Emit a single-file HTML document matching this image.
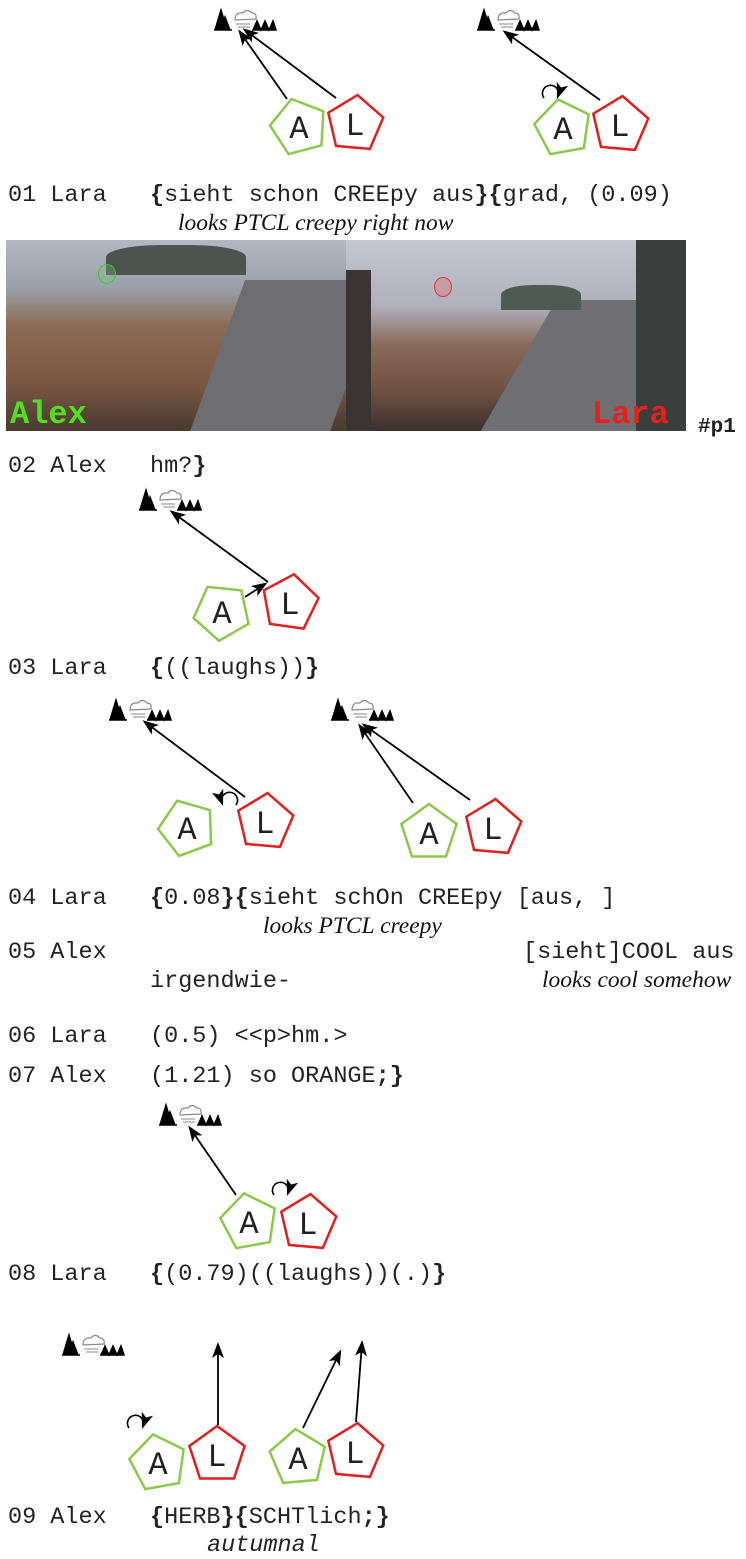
<!DOCTYPE html>
<html><head><meta charset="utf-8"><style>
html,body{margin:0;padding:0;background:#fff;}
body{width:746px;height:1557px;position:relative;overflow:hidden;font-family:"Liberation Mono",monospace;}
.t{position:absolute;font-family:"Liberation Mono",monospace;font-size:23.5px;color:#222;white-space:pre;line-height:1;}
.g{position:absolute;font-family:"Liberation Serif",serif;font-style:italic;font-size:23.5px;color:#111;white-space:pre;line-height:1;}
b{font-weight:bold;}
svg{position:absolute;left:0;top:0;}
svg text{font-family:"Liberation Mono",monospace;}
</style></head><body>
<div style="position:absolute;left:6px;top:240px;width:340px;height:191px;background:linear-gradient(180deg,#b4b8c0 0%,#9aa0a8 25%,#8b6b55 45%,#7a5844 75%,#4a3a30 100%);overflow:hidden">
<div style="position:absolute;left:210px;top:40px;width:140px;height:160px;background:#6e6e72;transform:skewX(-20deg)"></div>
<div style="position:absolute;left:100px;top:5px;width:140px;height:30px;background:#4c5450;border-radius:40% 40% 0 0"></div>
<div style="position:absolute;left:4px;top:156px;font-family:'Liberation Mono',monospace;font-weight:bold;font-size:32px;color:#4fe020">Alex</div>
<div style="position:absolute;left:92px;top:24px;width:16px;height:18px;border:1.5px solid #3c3;border-radius:50%;background:rgba(120,200,120,.3)"></div>
</div>
<div style="position:absolute;left:346px;top:240px;width:340px;height:191px;background:linear-gradient(180deg,#c4c6d0 0%,#aeb0ba 35%,#8a6a58 55%,#6e5040 80%,#3a3030 100%);overflow:hidden">
<div style="position:absolute;left:170px;top:60px;width:200px;height:140px;background:#707074;transform:skewX(-30deg)"></div>
<div style="position:absolute;left:155px;top:45px;width:80px;height:25px;background:#505a55;border-radius:40% 40% 0 0"></div>
<div style="position:absolute;left:290px;top:0;width:50px;height:191px;background:#3a3e3c"></div>
<div style="position:absolute;left:0;top:30px;width:25px;height:161px;background:#3a3432"></div>
<div style="position:absolute;left:246px;top:156px;font-family:'Liberation Mono',monospace;font-weight:bold;font-size:32px;color:#e8201c">Lara</div>
<div style="position:absolute;left:88px;top:37px;width:16px;height:18px;border:1.5px solid #d33;border-radius:50%;background:rgba(220,120,120,.4)"></div>
</div>
<div class="t" style="left:698px;top:417px;font-weight:bold;font-size:21px">#p1</div>

<div class="t" style="left:8px;top:184px">01 Lara</div>
<div class="t" style="left:150px;top:184px"><b>{</b>sieht schon CREEpy aus<b>}{</b>grad, (0.09)</div>
<div class="g" style="left:178px;top:212px">looks PTCL creepy right now</div>
<div class="t" style="left:8px;top:455px">02 Alex</div>
<div class="t" style="left:150px;top:455px">hm?<b>}</b></div>
<div class="t" style="left:8px;top:657px">03 Lara</div>
<div class="t" style="left:150px;top:657px"><b>{</b>((laughs))<b>}</b></div>
<div class="t" style="left:8px;top:887px">04 Lara</div>
<div class="t" style="left:150px;top:887px"><b>{</b>0.08<b>}{</b>sieht schOn CREEpy [aus, ]</div>
<div class="g" style="left:263px;top:915px">looks PTCL creepy</div>
<div class="t" style="left:8px;top:941px">05 Alex</div>
<div class="t" style="left:523px;top:941px">[sieht]COOL aus</div>
<div class="t" style="left:150px;top:970px">irgendwie-</div>
<div class="g" style="left:542px;top:969px">looks cool somehow</div>
<div class="t" style="left:8px;top:1025px">06 Lara</div>
<div class="t" style="left:150px;top:1025px">(0.5) &lt;&lt;p&gt;hm.&gt;</div>
<div class="t" style="left:8px;top:1065px">07 Alex</div>
<div class="t" style="left:150px;top:1065px">(1.21) so ORANGE<b>;}</b></div>
<div class="t" style="left:8px;top:1263px">08 Lara</div>
<div class="t" style="left:150px;top:1263px"><b>{</b>(0.79)((laughs))(.)<b>}</b></div>
<div class="t" style="left:8px;top:1506px">09 Alex</div>
<div class="t" style="left:150px;top:1506px"><b>{</b>HERB<b>}{</b>SCHTlich<b>;}</b></div>
<div class="t" style="left:207px;top:1534px;font-style:italic">autumnal</div>

<svg id="s" width="746" height="1557" xmlns="http://www.w3.org/2000/svg">
<defs><marker id="ah" markerWidth="16" markerHeight="12" refX="13" refY="6" orient="auto" markerUnits="userSpaceOnUse"><path d="M0,0 L16,6 L0,12 L4,6 z" fill="#000"/></marker></defs>
</svg>
<script>
var s=document.getElementById('s'),NS='http://www.w3.org/2000/svg';
function el(n,a,t){var e=document.createElementNS(NS,n);for(var k in a)e.setAttribute(k,a[k]);if(t)e.textContent=t;s.appendChild(e);}
function pent(cx,cy,rot,col,L){var p=[];for(var i=0;i<5;i++){var a=(rot-90+i*72)*Math.PI/180;p.push((cx+29*Math.cos(a)).toFixed(1)+','+(cy+29*Math.sin(a)).toFixed(1));}
el('polygon',{points:p.join(' '),fill:'none',stroke:col,'stroke-width':2.5});
el('text',{x:cx,y:cy+11,'text-anchor':'middle',style:'font-family:"Liberation Mono",monospace;font-size:32px',fill:'#222'},L);}
function A(x,y,r){pent(x,y,r,'#8cc84b','A');}
function Lp(x,y,r){pent(x,y,r,'#e02020','L');}
function arr(x1,y1,x2,y2){el('line',{x1:x1,y1:y1,x2:x2,y2:y2,stroke:'#000','stroke-width':1.8,'marker-end':'url(#ah)'});}
function icon(x,y){
el('path',{d:'M'+x+','+y+' l6,-20 l6,20 z M'+(x+5)+','+y+' l5,-13 l5,13z M'+(x-1)+','+y+' h18',fill:'#000',stroke:'#000','stroke-width':1.5});
el('path',{d:'M'+(x+20)+','+(y-10)+' q0,-8 8,-7 q4,-5 9,0 q5,0 4,6 z',fill:'none',stroke:'#888','stroke-width':1.2});
el('path',{d:'M'+(x+21)+','+(y-6)+' h14 M'+(x+23)+','+(y-3)+' h12',stroke:'#888','stroke-width':1});
el('path',{d:'M'+(x+38)+','+y+' l4,-9 l4,9 l4,-9 l4,9 l4,-9 l3,9 z M'+(x+37)+','+y+' h20',fill:'#000',stroke:'#000','stroke-width':1.5});}
function curl(x,y,flip){var d=flip?'M'+(x+8)+','+(y+8)+' a8,8 0 1,0 -14,-2':'M'+(x-8)+','+(y+8)+' a8,8 0 1,1 14,-2';el('path',{d:d,fill:'none',stroke:'#000','stroke-width':1.6,'marker-end':'url(#ah)'});}
icon(215,30);A(299,127,-15);Lp(355,124,5);arr(287,99,240,32);arr(336,98,245,30);
icon(478,30);A(563,128,-10);Lp(620,125,5);arr(600,100,505,32);curl(552,90,false);
icon(140,510);A(222,612,-30);Lp(290,603,8);arr(268,582,172,512);arr(245,597,265,584);
icon(110,720);A(187,828,-20);Lp(265,822,5);arr(245,797,145,722);curl(228,797,true);
icon(332,720);A(429,833,0);Lp(493,828,5);arr(413,803,360,726);arr(470,800,364,725);
icon(160,1125);A(249,1222,-10);Lp(308,1223,5);arr(236,1195,190,1128);curl(282,1187,false);
icon(63,1355);A(158,1463,-10);Lp(217,1455,0);arr(218,1425,218,1345);curl(137,1420,false);
A(298,1458,-5);Lp(355,1452,5);arr(303,1428,340,1352);arr(356,1422,362,1343);
</script>
</body></html>
